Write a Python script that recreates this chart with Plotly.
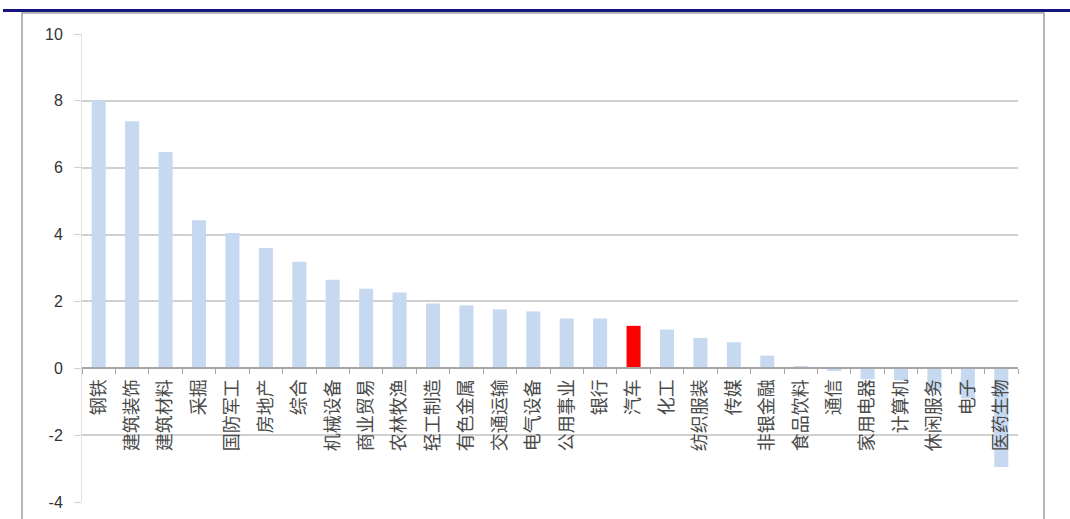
import plotly.graph_objects as go

categories = ["钢铁", "建筑装饰", "建筑材料", "采掘", "国防军工", "房地产", "综合", "机械设备",
              "商业贸易", "农林牧渔", "轻工制造", "有色金属", "交通运输", "电气设备", "公用事业",
              "银行", "汽车", "化工", "纺织服装", "传媒", "非银金融", "食品饮料", "通信",
              "家用电器", "计算机", "休闲服务", "电子", "医药生物"]
values = [8.02, 7.39, 6.47, 4.43, 4.05, 3.60, 3.19, 2.65,
          2.38, 2.27, 1.94, 1.88, 1.76, 1.70, 1.49,
          1.49, 1.27, 1.16, 0.91, 0.78, 0.38, 0.07, -0.08,
          -0.33, -0.36, -0.67, -0.90, -2.95]
highlight = "汽车"
y_ticks = [-4, -2, 0, 2, 4, 6, 8, 10]
y_tick_text = ["-4", "-2", "0", "2", "4", "6", "8", "10"]

W, H = 1070, 519
L, R, T, B = 82, 52, 34, 17
pw, ph = W - L - R, H - T - B

def px(x):
    return (x - L) / pw

def py(y):
    return (H - B - y) / ph

colors = ["#ff0000" if c == highlight else "#c6d9f0" for c in categories]

fig = go.Figure(go.Bar(x=categories, y=values, marker=dict(color=colors, line=dict(width=0)),
                       width=0.42))

ymin, ymax = -4, 10
zero_pos = (0 - ymin) / (ymax - ymin)

fig.update_layout(
    width=W, height=H,
    margin=dict(l=L, r=R, t=T, b=B, autoexpand=False),
    paper_bgcolor="white", plot_bgcolor="white",
    showlegend=False,
    xaxis=dict(type="category", tickson="boundaries", ticks="outside", ticklen=5,
               tickcolor="#a6a6a6", showgrid=False, showline=True, linecolor="#a6a6a6",
               linewidth=1.5, anchor="free", position=zero_pos, tickangle=-90,
               automargin=False, ticklabelstandoff=3,
               tickfont=dict(family="Noto Sans CJK SC", size=18, color="#4a4a4a")),
    yaxis=dict(range=[ymin, ymax], tickvals=y_ticks, ticktext=y_tick_text,
               showgrid=True, gridcolor="#d0d0d0", automargin=False,
               gridwidth=1.5, zeroline=False, showline=True, linecolor="#e3e3e3",
               ticks="outside", ticklen=7, tickcolor="#d0d0d0", ticklabelstandoff=8,
               tickfont=dict(family="Liberation Sans", size=16, color="#333333")),
    shapes=[
        dict(type="rect", xref="paper", yref="paper", x0=px(22), x1=px(1044),
             y0=py(540), y1=py(13), line=dict(color="#a0a0a0", width=1.5),
             fillcolor="rgba(0,0,0,0)", layer="below"),
        dict(type="line", xref="paper", yref="paper", x0=px(3), x1=px(1072),
             y0=py(10.5), y1=py(10.5), line=dict(color="#14147a", width=3)),
    ],
)

fig.write_html("out.html", config={"displayModeBar": False},
               post_script="document.body.style.margin='0';document.body.style.overflow='hidden';")
